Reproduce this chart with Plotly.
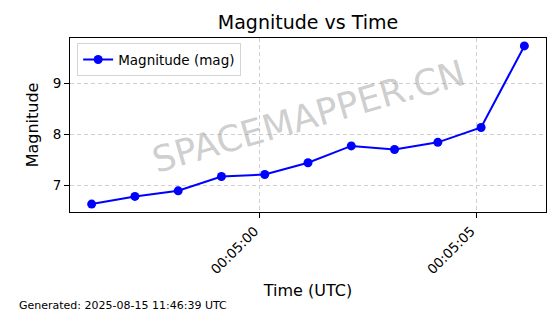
import plotly.graph_objects as go
import pandas as pd

times = pd.to_datetime([
    "2025-08-15 00:04:56.117", "2025-08-15 00:04:57.117", "2025-08-15 00:04:58.117",
    "2025-08-15 00:04:59.117", "2025-08-15 00:05:00.117", "2025-08-15 00:05:01.117",
    "2025-08-15 00:05:02.117", "2025-08-15 00:05:03.117", "2025-08-15 00:05:04.117",
    "2025-08-15 00:05:05.117", "2025-08-15 00:05:06.117",
])
magnitudes = [6.64, 6.79, 6.90, 7.18, 7.22, 7.45, 7.78, 7.71, 7.85, 8.14, 9.74]
series_name = "Magnitude (mag)"

span = times.max() - times.min()
xr = [times.min() - span * 0.05, times.max() + span * 0.05]
ymin, ymax = min(magnitudes), max(magnitudes)
yr = [ymin - (ymax - ymin) * 0.05, ymax + (ymax - ymin) * 0.05]

font = "DejaVu Sans"
fig = go.Figure()
fig.add_trace(go.Scatter(
    x=times, y=magnitudes, mode="lines+markers", name=series_name,
    line=dict(color="#0000ff", width=2), marker=dict(color="#0000ff", size=9),
))
fig.update_layout(
    width=560, height=314,
    margin=dict(l=70, r=14, t=38, b=102),
    paper_bgcolor="white", plot_bgcolor="white",
    font=dict(family=font, color="black", size=13),
    title=dict(text="Magnitude vs Time", x=0.55, xanchor="center", y=0.93, yanchor="middle",
               font=dict(size=19, family=font)),
    showlegend=True,
    legend=dict(x=0.015, y=0.97, xanchor="left", yanchor="top", bgcolor="rgba(255,255,255,0.8)",
                bordercolor="#d5d5d5", borderwidth=1, font=dict(size=13.5)),
)
fig.update_xaxes(
    range=xr, type="date", tickformat="%H:%M:%S", dtick=5000,
    tick0="2025-08-15 00:05:00", tickangle=-45, ticklabelshift=-5,
    showline=True, linecolor="black", linewidth=1, mirror=True,
    ticks="outside", ticklen=5, tickcolor="black",
    showgrid=True, gridcolor="#d0d0d0", griddash="4px,3px", gridwidth=1,
    title=dict(text="Time (UTC)", font=dict(size=16), standoff=8),
    tickfont=dict(size=13.5),
)
fig.update_yaxes(
    range=yr, dtick=1, tick0=7,
    showline=True, linecolor="black", linewidth=1, mirror=True,
    ticks="outside", ticklen=5, tickcolor="black",
    showgrid=True, gridcolor="#d0d0d0", griddash="4px,3px", gridwidth=1,
    zeroline=False,
    title=dict(text="Magnitude", font=dict(size=16), standoff=10),
    tickfont=dict(size=13.5),
)
fig.add_annotation(
    text="SPACEMAPPER.CN", xref="paper", yref="paper", x=0.5, y=0.55,
    showarrow=False, textangle=-16,
    font=dict(size=36, color="rgba(128,128,128,0.4)", family=font),
)
fig.add_annotation(
    text="Generated: 2025-08-15 11:46:39 UTC", xref="paper", yref="paper",
    x=-0.111, y=-0.54, xanchor="left", yanchor="middle", showarrow=False,
    font=dict(size=11, family=font),
)
fig.write_html("out.html")
